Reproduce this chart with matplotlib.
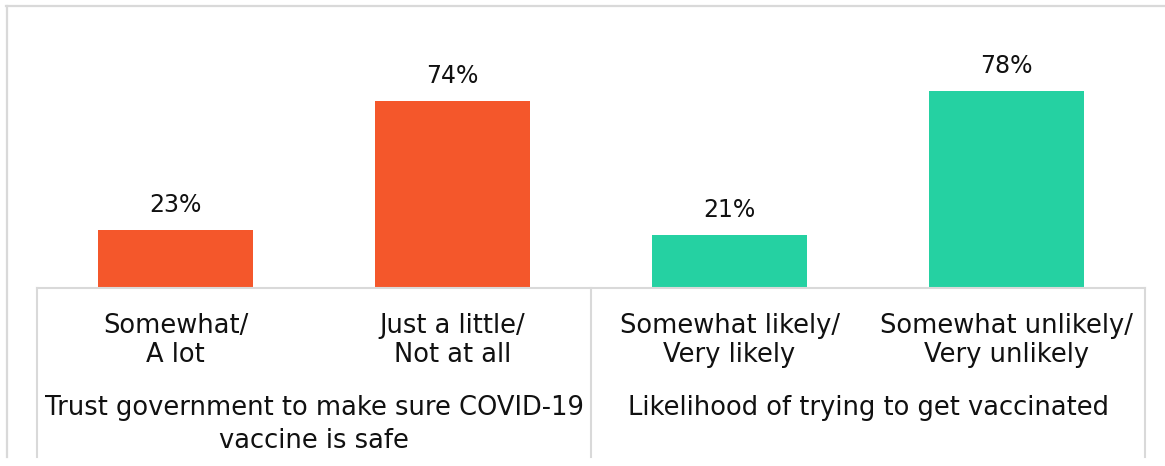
import matplotlib.pyplot as plt
from matplotlib.lines import Line2D

# Survey results: share of respondents per answer
categories = ["Somewhat/\nA lot", "Just a little/\nNot at all",
              "Somewhat likely/\nVery likely", "Somewhat unlikely/\nVery unlikely"]
values = [23, 74, 21, 78]
groups = ["Trust government to make sure COVID-19\nvaccine is safe",
          "Likelihood of trying to get vaccinated"]
group_size = 2

orange = "#F4572B"
teal = "#25D1A2"
grid_gray = "#D9D9D9"
colors = [orange, orange, teal, teal]

plt.rcParams["font.family"] = ["DejaVu Sans"]

W, H = 1165, 466
fig = plt.figure(figsize=(W / 100, H / 100), dpi=100)

# plot area in pixels: left 37, right 1145, baseline at 288, top at 40
ax = fig.add_axes([37 / W, (H - 288) / H, 1108 / W, 248 / H])
px_per_pct = 2.53
ax.set_ylim(0, 248 / px_per_pct)
ax.set_xlim(-0.5, len(values) - 0.5)

x = list(range(len(values)))
bars = ax.bar(x, values, width=0.56, color=colors)

for b, v in zip(bars, values):
    ax.annotate(f"{v}%", (b.get_x() + b.get_width() / 2, v),
                xytext=(0, 13), textcoords="offset points",
                ha="center", va="baseline", fontsize=17, color="#111111")

for s in ["top", "left", "right"]:
    ax.spines[s].set_visible(False)
ax.spines["bottom"].set_color(grid_gray)
ax.spines["bottom"].set_linewidth(1.5)
ax.set_yticks([])
ax.set_xticks([])

xt = ax.get_xaxis_transform()
for xi, lab in zip(x, categories):
    ax.text(xi, -25 / 248, lab, transform=xt, ha="center", va="top",
            fontsize=18.5, color="#111111", linespacing=1.17)

for gi, g in enumerate(groups):
    xc = gi * group_size + (group_size - 1) / 2
    ax.text(xc, -107 / 248, g, transform=xt, ha="center", va="top",
            fontsize=18.5, color="#111111", linespacing=1.37)

# group separators under the axis
bottom = -(457 - 288) / 248
for gi in range(len(groups) + 1):
    xb = gi * group_size - 0.5
    ax.plot([xb, xb], [0, bottom], transform=xt, color=grid_gray,
            lw=1.5, clip_on=False)

# chart frame
fig.add_artist(Line2D([6 / W, 1], [1 - 5.5 / H, 1 - 5.5 / H],
                      color=grid_gray, lw=1.6))
fig.add_artist(Line2D([6.5 / W, 6.5 / W], [1 - 5.5 / H, 1 - 457 / H],
                      color=grid_gray, lw=1.6))

fig.savefig("out.png", dpi=100)
